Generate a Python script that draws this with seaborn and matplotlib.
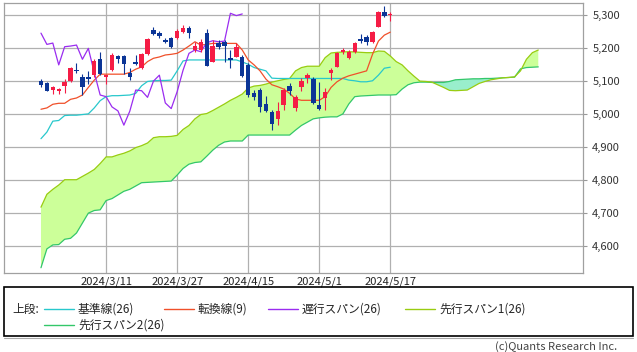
import numpy as np
import pandas as pd
import seaborn as sns
import matplotlib.pyplot as plt
from matplotlib.lines import Line2D
from matplotlib.patches import Rectangle
from matplotlib.transforms import ScaledTranslation

# daily candles, index 0 = first bar on the chart
opens = [5099, 5093, 5072, 5070, 5084, 5099, 5133, 5112, 5110, 5117,
         5165, 5110, 5132, 5175, 5175, 5124, 5158, 5138, 5181, 5254,
         5244, 5223, 5228, 5228, 5246, 5261, 5193, 5193, 5243, 5158,
         5213, 5218, 5168, 5173, 5173, 5148, 5064, 5072, 5031, 5006,
         4986, 5026, 5084, 5019, 5080, 5107, 5104, 5028, 5047, 5124,
         5142, 5186, 5168, 5186, 5225, 5233, 5216, 5264, 5307, 5300]
highs = [5105, 5096, 5084, 5078, 5105, 5143, 5153, 5120, 5130, 5165,
         5188, 5119, 5183, 5178, 5178, 5138, 5178, 5183, 5228, 5264,
         5251, 5230, 5232, 5256, 5269, 5266, 5218, 5225, 5256, 5223,
         5222, 5223, 5193, 5213, 5178, 5153, 5072, 5077, 5054, 5011,
         5036, 5077, 5092, 5057, 5108, 5124, 5110, 5097, 5077, 5138,
         5188, 5200, 5193, 5218, 5241, 5238, 5251, 5312, 5326, 5309]
lows = [5081, 5069, 5060, 5060, 5062, 5097, 5124, 5057, 5090, 5110,
        5117, 5090, 5129, 5153, 5122, 5102, 5148, 5135, 5178, 5239,
        5228, 5214, 5199, 5226, 5244, 5228, 5186, 5188, 5144, 5156,
        5196, 5158, 5138, 5171, 5112, 5052, 5042, 5006, 5006, 4951,
        4966, 5011, 5057, 5009, 5070, 5092, 5031, 5013, 5011, 5102,
        5141, 5180, 5165, 5183, 5213, 5208, 5213, 5262, 5294, 5282]
closes = [5087, 5070, 5080, 5074, 5097, 5139, 5130, 5080, 5106, 5161,
          5120, 5118, 5178, 5165, 5150, 5110, 5151, 5180, 5225, 5241,
          5236, 5216, 5201, 5251, 5259, 5244, 5206, 5218, 5145, 5205,
          5201, 5206, 5163, 5203, 5114, 5057, 5052, 5021, 5009, 4969,
          5008, 5072, 5070, 5052, 5099, 5117, 5033, 5016, 5067, 5132,
          5183, 5193, 5188, 5215, 5221, 5216, 5248, 5309, 5297, 5302]

# 転換線(9)
tenkan = [5014, 5018, 5029, 5032, 5032, 5044, 5048, 5057, 5080, 5102,
          5120, 5120, 5120, 5120, 5120, 5125, 5135, 5142, 5158, 5168,
          5172, 5178, 5180, 5183, 5193, 5205, 5218, 5208, 5210, 5213,
          5213, 5213, 5213, 5213, 5193, 5163, 5148, 5130, 5105, 5088,
          5082, 5075, 5062, 5045, 5041, 5041, 5041, 5041, 5052, 5080,
          5097, 5108, 5115, 5120, 5125, 5130, 5180, 5220, 5238, 5247]
# 基準線(26)
kijun = [4925, 4945, 4978, 4980, 4995, 4996, 4996, 4998, 5000, 5018,
         5040, 5052, 5055, 5055, 5056, 5057, 5062, 5085, 5098, 5100,
         5101, 5101, 5102, 5130, 5160, 5163, 5163, 5163, 5163, 5163,
         5163, 5163, 5163, 5163, 5157, 5150, 5140, 5135, 5130, 5108,
         5107, 5107, 5107, 5107, 5107, 5107, 5107, 5107, 5107, 5107,
         5107, 5107, 5102, 5100, 5097, 5097, 5100, 5117, 5138, 5141]
# 遅行スパン(26)
chikou = [5244, 5210, 5214, 5148, 5203, 5205, 5208, 5165, 5198, 5125,
          5057, 5052, 5021, 5009, 4966, 5008, 5072, 5070, 5050, 5099,
          5117, 5033, 5016, 5067, 5132, 5183, 5193, 5188, 5215, 5221,
          5218, 5220, 5304, 5297, 5302]
# 先行スパン1(26)
span_a = [4718, 4757, 4772, 4785, 4801, 4801, 4801, 4811, 4821, 4832,
          4850, 4870, 4870, 4876, 4881, 4888, 4898, 4904, 4912, 4928,
          4931, 4931, 4932, 4935, 4953, 4965, 4985, 4998, 5001, 5010,
          5020, 5030, 5041, 5050, 5060, 5078, 5084, 5086, 5090, 5096,
          5100, 5104, 5107, 5130, 5140, 5144, 5144, 5144, 5170, 5184,
          5186, 5187, 5188, 5187, 5186, 5185, 5185, 5190, 5189, 5175,
          5158, 5148, 5130, 5114, 5099, 5098, 5096, 5088, 5080, 5071,
          5070, 5071, 5072, 5082, 5092, 5098, 5103, 5106, 5109, 5110,
          5112, 5130, 5165, 5185, 5193]
# 先行スパン2(26)
span_b = [4535, 4592, 4604, 4605, 4621, 4624, 4640, 4670, 4700, 4708,
          4710, 4738, 4744, 4755, 4766, 4772, 4782, 4792, 4793, 4794,
          4795, 4796, 4797, 4815, 4835, 4848, 4853, 4855, 4872, 4890,
          4905, 4915, 4918, 4918, 4918, 4936, 4936, 4936, 4936, 4936,
          4936, 4936, 4936, 4951, 4965, 4975, 4985, 4988, 4990, 4991,
          4991, 5000, 5030, 5052, 5054, 5055, 5056, 5057, 5057, 5057,
          5058, 5075, 5088, 5094, 5096, 5096, 5095, 5095, 5095, 5098,
          5103, 5104, 5105, 5106, 5106, 5107, 5107, 5108, 5109, 5110,
          5111, 5136, 5140, 5141, 5142]

date_ticks = [11, 23, 35, 47, 59]
date_labels = ['2024/3/11', '2024/3/27', '2024/4/15', '2024/5/1', '2024/5/17']

RED = '#f51c45'
BLUE = '#0b3596'
C_TENKAN = '#f0502a'
C_KIJUN = '#28c8cc'
C_CHIKOU = '#9a2cf0'
C_SPAN_A = '#99cc11'
C_SPAN_B = '#33c76a'

sns.set_style('white')
plt.rcParams['font.family'] = ['Noto Sans CJK JP', 'DejaVu Sans']

fig = plt.figure(figsize=(6.37, 3.52), dpi=100)
ax = fig.add_axes([3.5 / 637, 1 - 272.7 / 352, 579 / 637, 270 / 352])

bars = pd.DataFrame({'open': opens, 'high': highs, 'low': lows, 'close': closes})
bars['idx'] = np.arange(len(bars))
n_fwd = len(span_a)
xa = np.arange(n_fwd)
a = np.array(span_a, dtype=float)
b = np.array(span_b, dtype=float)

# cloud
ax.fill_between(xa, a, b, where=a >= b, interpolate=True, color='#ccff99', lw=0, zorder=1)
ax.fill_between(xa, a, b, where=a < b, interpolate=True, color='#99eecc', lw=0, zorder=1)

lines = [
    (xa, span_b, C_SPAN_B),
    (xa, span_a, C_SPAN_A),
    (bars['idx'], kijun, C_KIJUN),
    (bars['idx'], tenkan, C_TENKAN),
    (np.arange(len(chikou)), chikou, C_CHIKOU),
]
for xs, ys, col in lines:
    sns.lineplot(x=xs, y=ys, ax=ax, color=col, lw=0.9, zorder=3, sort=False)

# candles
cols = np.where(bars['close'] >= bars['open'], RED, BLUE)
ax.vlines(bars['idx'], bars['low'], bars['high'], colors=cols, lw=0.8, zorder=4)
body_lo = np.minimum(bars['open'], bars['close'])
body_h = np.maximum((bars['close'] - bars['open']).abs(), 2.5)
ax.bar(bars['idx'], body_h, bottom=body_lo, width=0.75, color=cols, lw=0, zorder=5)

ax.set_xlim(-6.33, 91.47)
ax.set_ylim(4520, 5336)
ax.set_yticks(range(4600, 5400, 100))
ax.set_yticklabels([f'{v:,}' for v in range(4600, 5400, 100)])
ax.set_xticks(date_ticks)
ax.set_xticklabels(date_labels)
for lab in ax.get_xticklabels():
    lab.set_transform(lab.get_transform() + ScaledTranslation(3 / 100, 0, fig.dpi_scale_trans))
ax.yaxis.tick_right()
ax.set_xlabel('')
ax.set_ylabel('')
ax.grid(True, color='#b0b0b0', lw=0.9, zorder=0)
ax.set_axisbelow(True)
ax.tick_params(axis='y', length=3, color='#999999', labelsize=8, pad=4, labelcolor='#333333')
ax.tick_params(axis='x', length=0, labelsize=8, pad=3, labelcolor='#222222')
for sp in ax.spines.values():
    sp.set_color('#a0a0a0')
    sp.set_linewidth(0.9)

# legend box drawn by hand
fig.add_artist(Rectangle((4 / 637, 1 - 336 / 352), 629 / 637, 49 / 352,
                         transform=fig.transFigure, fill=False, ec='black', lw=1.2))
fig.add_artist(Line2D([4 / 637, 633 / 637], [1 - 338 / 352] * 2, color='#aaaaaa', lw=0.8))
row1 = 1 - 309 / 352
row2 = 1 - 325 / 352
fig.text(12 / 637, row1, '上段:', fontsize=8.5, va='center')
legend_items = [
    (44, row1, C_KIJUN, '基準線(26)'),
    (164, row1, C_TENKAN, '転換線(9)'),
    (268, row1, C_CHIKOU, '遅行スパン(26)'),
    (405, row1, C_SPAN_A, '先行スパン1(26)'),
    (44, row2, C_SPAN_B, '先行スパン2(26)'),
]
for x0, y, col, label in legend_items:
    fig.add_artist(Line2D([x0 / 637, (x0 + 30) / 637], [y, y], color=col, lw=1))
    fig.text((x0 + 34) / 637, y, label, fontsize=8.5, va='center')

fig.text(617 / 637, 1 - 347 / 352, '(c)Quants Research Inc.', fontsize=8,
         ha='right', va='center', color='#444444')

fig.savefig('out.png', dpi=100)
